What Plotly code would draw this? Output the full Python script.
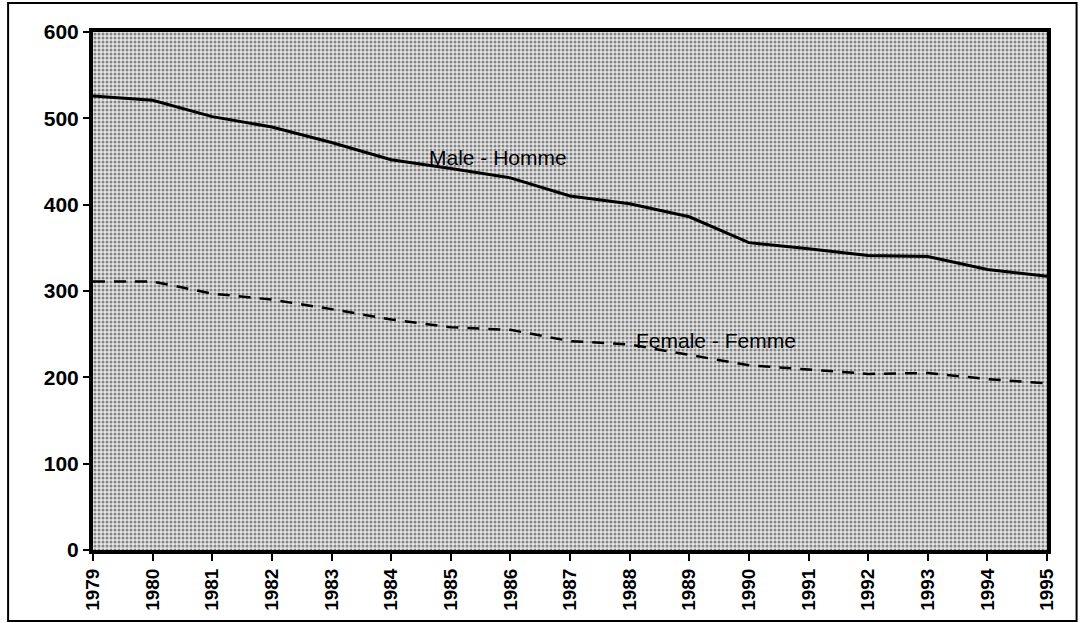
import plotly.graph_objects as go

years = list(range(1979, 1996))
male = [526, 521, 502, 490, 472, 452, 442, 431, 410, 401, 386, 356, 349, 341, 340, 325, 317]
female = [311, 311, 297, 290, 279, 267, 258, 255, 242, 238, 226, 214, 209, 204, 205, 198, 193]
y_ticks = [0, 100, 200, 300, 400, 500, 600]

fig = go.Figure()

# stippled background for the plotting area
fig.add_trace(go.Scatter(
    x=[years[0], years[-1], years[-1], years[0]],
    y=[y_ticks[0], y_ticks[0], y_ticks[-1], y_ticks[-1]],
    fill="toself", mode="none", hoverinfo="skip", showlegend=False,
    fillcolor="#9a9a9a",
    fillpattern=dict(shape=".", size=4, solidity=0.45, fgcolor="#222222", bgcolor="#e6e6e6"),
))

fig.add_trace(go.Scatter(x=years, y=male, mode="lines", showlegend=False,
                         line=dict(color="black", width=3)))
fig.add_trace(go.Scatter(x=years, y=female, mode="lines", showlegend=False,
                         line=dict(color="black", width=2.5, dash="12px,9px")))

fig.add_annotation(x=1985.8, y=455, text="Male - Homme", showarrow=False,
                   font=dict(family="Liberation Sans", size=21, color="black"))
fig.add_annotation(x=1989.45, y=243, text="Female - Femme", showarrow=False,
                   font=dict(family="Liberation Sans", size=21, color="black"))

# outer frame
fig.add_shape(type="rect", xref="paper", yref="paper",
              x0=-0.089, x1=1.031, y0=-0.137, y1=1.056,
              line=dict(color="black", width=2), layer="below")

x_font = dict(family="Liberation Sans", size=19, color="black", weight="bold")
y_font = dict(family="Liberation Sans", size=21, color="black", weight="bold")

fig.update_layout(
    width=1080, height=623,
    margin=dict(l=93, r=33, t=32, b=73),
    paper_bgcolor="white", plot_bgcolor="white",
    xaxis=dict(range=[years[0], years[-1]], tickmode="array", tickvals=years,
               ticktext=[str(y) for y in years], tickangle=-90, tickfont=x_font,
               showgrid=False, zeroline=False, showline=True, linecolor="black",
               linewidth=4, mirror=True, ticks="outside", ticklen=7, tickwidth=2,
               tickcolor="black"),
    yaxis=dict(range=[0, 600], tickmode="array", tickvals=y_ticks, tickfont=y_font,
               showgrid=False, zeroline=False, showline=True, linecolor="black",
               linewidth=4, mirror=True, ticks="outside", ticklen=6, tickwidth=2,
               tickcolor="black"),
)

fig.write_html("out.html")
